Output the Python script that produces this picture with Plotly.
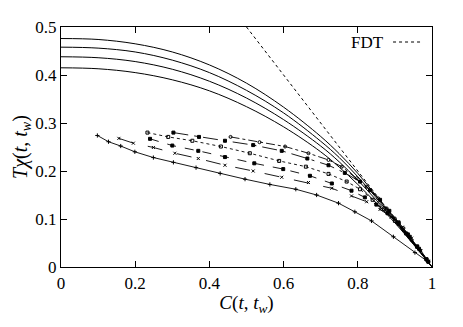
import plotly.graph_objects as go

# ---------------------------------------------------------
# data
# ---------------------------------------------------------
c_upper = [0.0, 0.1, 0.2, 0.3, 0.4, 0.5, 0.6, 0.7, 0.75, 0.8, 0.85, 0.9, 0.95, 1.0]
t_upper_1 = [0.476, 0.474, 0.465, 0.448, 0.421, 0.383, 0.333, 0.272, 0.236, 0.195, 0.148, 0.099, 0.050, 0.0]
t_upper_2 = [0.458, 0.456, 0.448, 0.431, 0.405, 0.368, 0.321, 0.262, 0.228, 0.188, 0.144, 0.097, 0.049, 0.0]
t_upper_3 = [0.438, 0.436, 0.428, 0.412, 0.387, 0.352, 0.307, 0.252, 0.219, 0.181, 0.139, 0.095, 0.048, 0.0]
t_upper_4 = [0.415, 0.413, 0.405, 0.390, 0.367, 0.334, 0.292, 0.240, 0.208, 0.172, 0.133, 0.092, 0.047, 0.0]

c_circ = [0.457, 0.535, 0.604, 0.667, 0.721, 0.757, 0.797, 0.824, 0.855, 0.878, 0.900, 0.923, 0.945, 0.968, 0.990]
t_circ = [0.271, 0.260, 0.251, 0.237, 0.223, 0.209, 0.185, 0.167, 0.143, 0.122, 0.101, 0.081, 0.056, 0.035, 0.011]

c_fill = [0.303, 0.372, 0.442, 0.518, 0.595, 0.664, 0.721, 0.765, 0.806, 0.833, 0.860, 0.885, 0.910, 0.935, 0.960, 0.985]
t_fill = [0.280, 0.271, 0.263, 0.254, 0.242, 0.226, 0.212, 0.196, 0.178, 0.160, 0.140, 0.117, 0.093, 0.068, 0.043, 0.016]

c_osq = [0.233, 0.289, 0.354, 0.431, 0.509, 0.588, 0.660, 0.721, 0.770, 0.806, 0.840, 0.870, 0.900, 0.930, 0.960, 0.985]
t_osq = [0.280, 0.271, 0.263, 0.251, 0.237, 0.221, 0.209, 0.194, 0.178, 0.162, 0.140, 0.120, 0.096, 0.070, 0.042, 0.016]

c_sq = [0.240, 0.300, 0.370, 0.442, 0.521, 0.599, 0.671, 0.730, 0.783, 0.819, 0.850, 0.880, 0.910, 0.940, 0.965, 0.990]
t_sq = [0.267, 0.253, 0.242, 0.229, 0.216, 0.204, 0.190, 0.174, 0.159, 0.145, 0.130, 0.112, 0.090, 0.063, 0.038, 0.011]

c_x = [0.156, 0.195, 0.249, 0.307, 0.370, 0.442, 0.518, 0.595, 0.667, 0.730, 0.783, 0.824, 0.860, 0.890, 0.920, 0.945, 0.970, 0.990]
t_x = [0.268, 0.258, 0.249, 0.237, 0.226, 0.212, 0.200, 0.187, 0.176, 0.164, 0.148, 0.136, 0.120, 0.104, 0.083, 0.060, 0.034, 0.012]

c_plus = [0.098, 0.128, 0.161, 0.199, 0.249, 0.303, 0.364, 0.429, 0.496, 0.563, 0.633, 0.689, 0.748, 0.792, 0.837, 0.896, 0.954, 0.989]
t_plus = [0.274, 0.261, 0.252, 0.240, 0.228, 0.218, 0.207, 0.195, 0.183, 0.172, 0.162, 0.150, 0.133, 0.115, 0.096, 0.063, 0.030, 0.011]

c_fdt = [0.5, 1.0]
t_fdt = [0.5, 0.0]

x_ticks = [0, 0.2, 0.4, 0.6, 0.8, 1]
x_labels = ["0", "0.2", "0.4", "0.6", "0.8", "1"]
y_ticks = [0, 0.1, 0.2, 0.3, 0.4, 0.5]
y_labels = ["0", "0.1", "0.2", "0.3", "0.4", "0.5"]

FONT = "Liberation Serif"

fig = go.Figure()

for t_up in [t_upper_1, t_upper_2, t_upper_3, t_upper_4]:
    fig.add_trace(go.Scatter(
        x=c_upper, y=t_up, mode="lines",
        line=dict(color="black", width=1, shape="spline", smoothing=1.0),
        showlegend=False
    ))

marker_series = [
    (c_circ, t_circ, "dashdot", "circle-open"),
    (c_fill, t_fill, "longdashdot", "square"),
    (c_osq, t_osq, "dot", "square-open"),
    (c_sq, t_sq, "dash", "square"),
    (c_x, t_x, "longdash", "x-thin-open"),
    (c_plus, t_plus, "solid", "cross-thin-open"),
]
for cx, ty, dash, sym in marker_series:
    fig.add_trace(go.Scatter(
        x=cx, y=ty, mode="lines+markers",
        line=dict(color="black", width=0.9, dash=dash),
        marker=dict(symbol=sym, size=3, color="black",
                    line=dict(color="black", width=1)),
        showlegend=False
    ))

fig.add_trace(go.Scatter(
    x=c_fdt, y=t_fdt, mode="lines",
    line=dict(color="black", width=1, dash="dot"),
    showlegend=False
))

# legend entry drawn by hand: text then dotted sample, as in the original
fig.add_annotation(
    x=0.876, y=0.9375, xref="paper", yref="paper",
    text="FDT", showarrow=False, xanchor="right", yanchor="middle",
    font=dict(family=FONT, size=17, color="black")
)
fig.add_shape(
    type="line", xref="paper", yref="paper",
    x0=0.895, x1=0.973, y0=0.9375, y1=0.9375,
    line=dict(color="black", width=1, dash="dot")
)

axis_common = dict(
    showgrid=False, zeroline=False, automargin=False,
    showline=True, linecolor="black", linewidth=1.2, mirror="ticks",
    ticks="inside", ticklen=6, tickwidth=1.2, tickcolor="black",
    tickfont=dict(family=FONT, size=17, color="black"),
)

# page body has an 8px default margin, so the figure is 16px smaller
fig.update_layout(
    width=447, height=311,
    margin=dict(l=53, r=23, t=19, b=52),
    paper_bgcolor="white", plot_bgcolor="white",
    font=dict(family=FONT, color="black"),
    xaxis=dict(
        range=[0, 1], tickvals=x_ticks, ticktext=x_labels,
        title=dict(text="<i>C</i>(<i>t</i>, <i>t</i><sub><i>w</i></sub>)",
                   font=dict(family=FONT, size=19), standoff=2),
        **axis_common
    ),
    yaxis=dict(
        range=[0, 0.5], tickvals=y_ticks, ticktext=y_labels,
        title=dict(text="<i>T</i><i>χ</i>(<i>t</i>, <i>t</i><sub><i>w</i></sub>)",
                   font=dict(family=FONT, size=20), standoff=2),
        **axis_common
    ),
)

fig.write_html("out.html")
